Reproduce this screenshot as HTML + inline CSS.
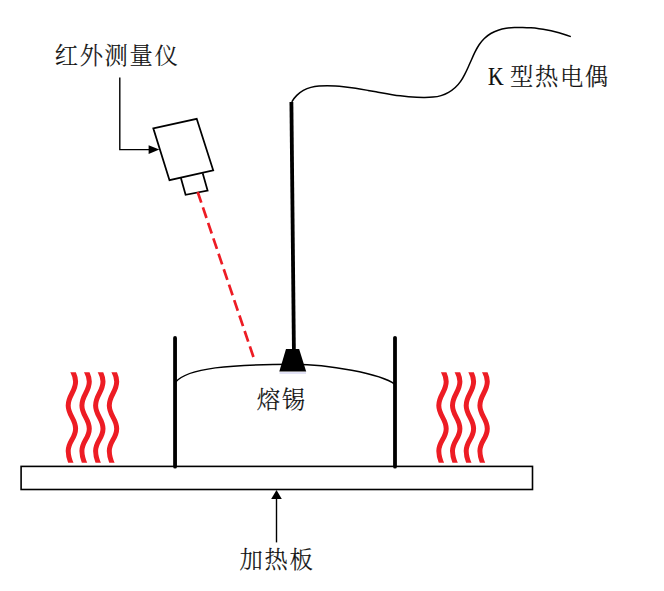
<!DOCTYPE html>
<html lang="zh-CN">
<head>
<meta charset="utf-8">
<title>红外测量仪与K型热电偶测温示意图</title>
<style>
  html, body { margin: 0; padding: 0; background: #ffffff; }
  body { width: 664px; height: 591px; overflow: hidden; position: relative; }
  svg { position: absolute; left: 0; top: 0; display: block; }
  .lbl {
    position: absolute; margin: 0; white-space: nowrap; line-height: 1;
    font-family: "Liberation Serif", "Noto Serif CJK SC", serif;
    font-size: 23.3px; font-weight: 300; color: #111111;
    letter-spacing: 1.65px;
    -webkit-text-stroke: 0.2px #111111;
  }
  .lbl .k { position: absolute; left: 0; top: 0; font-size: 24.5px; letter-spacing: 0; white-space: pre;
            transform: scale(0.88, 1.06); transform-origin: left top; }
  .lbl .c { position: absolute; left: 22.0px; top: 1.6px; }
</style>
</head>
<body>
<svg width="664" height="591" viewBox="0 0 664 591">
  <rect x="0" y="0" width="664" height="591" fill="#ffffff"/>

  <!-- heating plate -->
  <rect x="21.1" y="466.4" width="511.4" height="23.1" fill="#ffffff" stroke="#000000" stroke-width="1.6"/>

  <!-- molten tin surface -->
  <path d="M175.3 382.3 C187.62 367.81 230.26 364.32 294.08 364.32 C327.20 364.32 380.75 373.72 395 384.4" fill="none" stroke="#000000" stroke-width="1.5"/>

  <!-- container walls -->
  <line x1="175.05" y1="338" x2="175.05" y2="466.7" stroke="#000000" stroke-width="3.8" stroke-linecap="round"/>
  <line x1="395" y1="337.8" x2="395" y2="466.7" stroke="#000000" stroke-width="3.8" stroke-linecap="round"/>

  <!-- heat waves -->
  <clipPath id="wclip"><rect x="40" y="372.2" width="480" height="90.6"/></clipPath>
  <g fill="none" stroke="#ed1c24" stroke-width="5.0" stroke-linecap="butt" clip-path="url(#wclip)">
    <path d="M68.20 358.00 C68.20 367.87 75.60 371.63 75.60 381.50 C75.60 391.58 68.20 395.42 68.20 405.50 C68.20 415.24 75.60 418.96 75.60 428.70 C75.60 438.07 68.20 441.63 68.20 451.00 C68.20 463.18 75.60 467.82 75.60 480.00" transform="translate(0.0 0)"/>
    <path d="M68.20 358.00 C68.20 367.87 75.60 371.63 75.60 381.50 C75.60 391.58 68.20 395.42 68.20 405.50 C68.20 415.24 75.60 418.96 75.60 428.70 C75.60 438.07 68.20 441.63 68.20 451.00 C68.20 463.18 75.60 467.82 75.60 480.00" transform="translate(13.7 0)"/>
    <path d="M68.20 358.00 C68.20 367.87 75.60 371.63 75.60 381.50 C75.60 391.58 68.20 395.42 68.20 405.50 C68.20 415.24 75.60 418.96 75.60 428.70 C75.60 438.07 68.20 441.63 68.20 451.00 C68.20 463.18 75.60 467.82 75.60 480.00" transform="translate(27.4 0)"/>
    <path d="M68.20 358.00 C68.20 367.87 75.60 371.63 75.60 381.50 C75.60 391.58 68.20 395.42 68.20 405.50 C68.20 415.24 75.60 418.96 75.60 428.70 C75.60 438.07 68.20 441.63 68.20 451.00 C68.20 463.18 75.60 467.82 75.60 480.00" transform="translate(41.1 0)"/>
    <path d="M68.20 358.00 C68.20 367.87 75.60 371.63 75.60 381.50 C75.60 391.58 68.20 395.42 68.20 405.50 C68.20 415.24 75.60 418.96 75.60 428.70 C75.60 438.07 68.20 441.63 68.20 451.00 C68.20 463.18 75.60 467.82 75.60 480.00" transform="translate(370.6 0)"/>
    <path d="M68.20 358.00 C68.20 367.87 75.60 371.63 75.60 381.50 C75.60 391.58 68.20 395.42 68.20 405.50 C68.20 415.24 75.60 418.96 75.60 428.70 C75.60 438.07 68.20 441.63 68.20 451.00 C68.20 463.18 75.60 467.82 75.60 480.00" transform="translate(384.3 0)"/>
    <path d="M68.20 358.00 C68.20 367.87 75.60 371.63 75.60 381.50 C75.60 391.58 68.20 395.42 68.20 405.50 C68.20 415.24 75.60 418.96 75.60 428.70 C75.60 438.07 68.20 441.63 68.20 451.00 C68.20 463.18 75.60 467.82 75.60 480.00" transform="translate(398.0 0)"/>
    <path d="M68.20 358.00 C68.20 367.87 75.60 371.63 75.60 381.50 C75.60 391.58 68.20 395.42 68.20 405.50 C68.20 415.24 75.60 418.96 75.60 428.70 C75.60 438.07 68.20 441.63 68.20 451.00 C68.20 463.18 75.60 467.82 75.60 480.00" transform="translate(411.7 0)"/>
  </g>

  <!-- thermocouple probe -->
  <line x1="291.4" y1="102" x2="293.9" y2="350" stroke="#000000" stroke-width="3.8"/>
  <polygon points="286,349 299.1,349 306.2,371.5 279.3,371.5" fill="#000000"/>
  <line x1="279.5" y1="373" x2="306" y2="373" stroke="#d0d0f0" stroke-width="1.2"/>

  <!-- thermocouple wire -->
  <path d="M291.80 101.91 C293.13 99.50 294.82 97.31 296.78 95.38 C298.73 93.45 300.95 91.78 303.34 90.43 C305.73 89.07 308.28 88.05 310.91 87.35 C313.55 86.65 316.27 86.25 319.01 86.02 C321.75 85.78 324.50 85.70 327.24 85.69 C329.98 85.69 332.71 85.78 335.43 85.94 C338.15 86.10 340.86 86.34 343.58 86.63 C346.29 86.93 348.99 87.28 351.70 87.67 C354.40 88.07 357.10 88.50 359.80 88.95 C362.50 89.41 365.20 89.89 367.90 90.38 C370.60 90.87 373.30 91.36 376.00 91.86 C378.70 92.35 381.40 92.85 384.10 93.32 C386.80 93.79 389.51 94.25 392.21 94.68 C394.92 95.11 397.62 95.51 400.33 95.86 C403.04 96.21 405.75 96.52 408.47 96.78 C411.18 97.03 413.90 97.23 416.62 97.36 C419.34 97.48 422.07 97.54 424.80 97.51 C427.53 97.48 430.27 97.39 432.99 97.12 C435.70 96.84 438.39 96.39 441.02 95.61 C443.64 94.83 446.19 93.72 448.59 92.35 C450.99 90.98 453.22 89.36 455.24 87.53 C457.26 85.69 459.06 83.65 460.61 81.42 C462.17 79.18 463.49 76.77 464.73 74.34 C465.97 71.90 467.13 69.43 468.26 66.94 C469.39 64.45 470.48 61.95 471.60 59.44 C472.71 56.94 473.84 54.42 475.06 51.95 C476.29 49.48 477.60 47.07 479.12 44.79 C480.63 42.51 482.35 40.38 484.32 38.47 C486.30 36.57 488.50 34.88 490.83 33.50 C493.17 32.11 495.64 31.03 498.21 30.19 C500.78 29.36 503.44 28.76 506.16 28.34 C508.87 27.92 511.64 27.68 514.42 27.55 C517.19 27.43 519.97 27.42 522.72 27.47 C525.48 27.53 528.22 27.66 530.94 27.87 C533.66 28.07 536.36 28.36 539.05 28.72 C541.74 29.08 544.42 29.51 547.09 30.02 C549.75 30.53 552.41 31.11 555.05 31.77 C557.70 32.43 560.34 33.17 562.96 33.98 C565.59 34.78 568.22 35.67 570.83 36.62" fill="none" stroke="#000000" stroke-width="1.5"/>

  <!-- infrared camera -->
  <polygon points="153.3,128.3 196.7,118.8 213.2,170.3 169.5,180.2" fill="#ffffff" stroke="#000000" stroke-width="1.75" stroke-linejoin="miter"/>
  <polyline points="180.9,178.1 185.6,194.8 207.6,190.6 202.7,173.2" fill="none" stroke="#000000" stroke-width="1.75" stroke-linejoin="miter"/>

  <!-- infrared beam -->
  <line x1="197.7" y1="192" x2="253.6" y2="357.5" stroke="#ed1c24" stroke-width="2.7" stroke-dasharray="11.2 5.1"/>

  <!-- leader to camera -->
  <polyline points="119.8,77.6 119.8,149.6 150,149.6" fill="none" stroke="#000000" stroke-width="1.4"/>
  <polygon points="148.6,145.2 159.3,149.6 148.6,154" fill="#000000"/>

  <!-- leader to plate -->
  <line x1="276.5" y1="542.4" x2="276.5" y2="498" stroke="#000000" stroke-width="1.4"/>
  <polygon points="271.2,499 276.5,490.1 281.8,499" fill="#000000"/>
</svg>

<div class="lbl" id="t1" style="left:54.7px; top:44.6px;">红外测量仪</div>
<div class="lbl" id="t2" style="left:488px; top:64px; width:124px; height:27px;"><span class="k">K </span><span class="c">型热电偶</span></div>
<div class="lbl" id="t3" style="left:256.8px; top:388.5px;">熔锡</div>
<div class="lbl" id="t4" style="left:239.6px; top:549.3px;">加热板</div>
</body>
</html>
